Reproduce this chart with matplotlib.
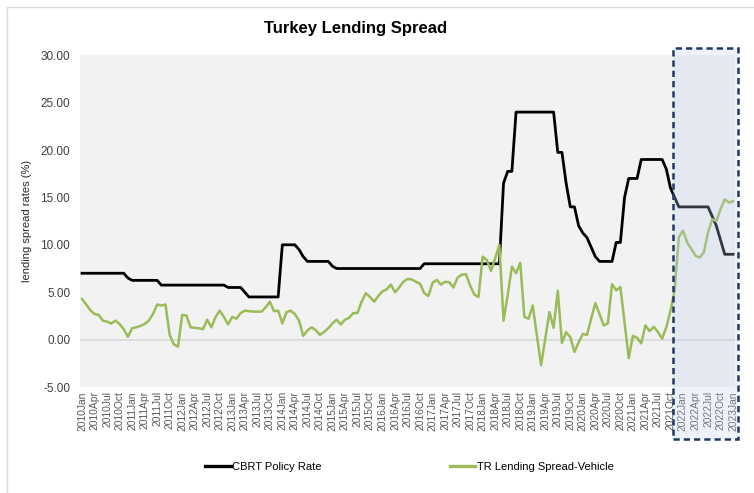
import matplotlib.pyplot as plt
from matplotlib.patches import Rectangle
from matplotlib.lines import Line2D
import matplotlib.transforms as mtransforms

plt.rcParams['font.family'] = ['Liberation Sans', 'DejaVu Sans']

# monthly periods, 2010Jan .. 2023Jan
years = list(range(2010, 2023))
month_names = ["Jan", "Feb", "Mar", "Apr", "May", "Jun",
               "Jul", "Aug", "Sep", "Oct", "Nov", "Dec"]
periods = [f"{y}{m}" for y in years for m in month_names] + ["2023Jan"]

# CBRT policy rate (%), one row per year
policy_rate = [
    7, 7, 7, 7, 7, 7, 7, 7, 7, 7, 7, 6.5,
    6.25, 6.25, 6.25, 6.25, 6.25, 6.25, 6.25, 5.75, 5.75, 5.75, 5.75, 5.75,
    5.75, 5.75, 5.75, 5.75, 5.75, 5.75, 5.75, 5.75, 5.75, 5.75, 5.75, 5.5,
    5.5, 5.5, 5.5, 5.0, 4.5, 4.5, 4.5, 4.5, 4.5, 4.5, 4.5, 4.5,
    10, 10, 10, 10, 9.5, 8.75, 8.25, 8.25, 8.25, 8.25, 8.25, 8.25,
    7.75, 7.5, 7.5, 7.5, 7.5, 7.5, 7.5, 7.5, 7.5, 7.5, 7.5, 7.5,
    7.5, 7.5, 7.5, 7.5, 7.5, 7.5, 7.5, 7.5, 7.5, 7.5, 8, 8,
    8, 8, 8, 8, 8, 8, 8, 8, 8, 8, 8, 8,
    8, 8, 8, 8, 8, 16.5, 17.75, 17.75, 24, 24, 24, 24,
    24, 24, 24, 24, 24, 24, 19.75, 19.75, 16.5, 14, 14, 12,
    11.25, 10.75, 9.75, 8.75, 8.25, 8.25, 8.25, 8.25, 10.25, 10.25, 15, 17,
    17, 17, 19, 19, 19, 19, 19, 19, 18, 16, 15, 14,
    14, 14, 14, 14, 14, 14, 14, 13, 12, 10.5, 9, 9,
    9,
]

# TR lending spread - vehicle loans (%), one row per year
vehicle_spread = [
    4.3, 3.7, 3.1, 2.7, 2.6, 2.0, 1.9, 1.7, 2.0, 1.65, 1.1, 0.3,
    1.2, 1.3, 1.45, 1.65, 2.0, 2.7, 3.7, 3.6, 3.7, 0.5, -0.5, -0.75,
    2.6, 2.55, 1.3, 1.25, 1.2, 1.1, 2.1, 1.3, 2.4, 3.05, 2.4, 1.6,
    2.4, 2.2, 2.8, 3.05, 3.0, 2.95, 2.95, 2.95, 3.4, 4.0, 3.0, 3.05,
    1.7, 2.9, 3.05, 2.7, 2.0, 0.4, 0.95, 1.3, 1.0, 0.5, 0.8, 1.2,
    1.7, 2.1, 1.6, 2.1, 2.3, 2.8, 2.8, 4.0, 4.9, 4.5, 4.0, 4.6,
    5.1, 5.3, 5.8, 5.0, 5.5, 6.1, 6.4, 6.35, 6.1, 5.9, 4.9, 4.6,
    6.0, 6.3, 5.8, 6.1, 6.05, 5.5, 6.55, 6.85, 6.9, 5.7, 4.75, 4.5,
    8.75, 8.4, 7.25, 8.6, 10.0, 2.0, 4.7, 7.7, 7.0, 8.1, 2.4, 2.2,
    3.6, 0.4, -2.7, 0.1, 2.9, 1.25, 5.15, -0.35, 0.8, 0.25, -1.3, -0.3,
    0.6, 0.5, 2.2, 3.85, 2.7, 1.5, 1.7, 5.85, 5.2, 5.55, 1.8, -1.95,
    0.4, 0.2, -0.4, 1.5, 0.9, 1.35, 0.8, 0.1, 1.3, 3.05, 5.15, 10.8,
    11.5, 10.25, 9.55, 8.85, 8.65, 9.2, 11.3, 12.7, 12.5, 13.75, 14.8, 14.45,
    14.6,
]

y_ticks = [-5, 0, 5, 10, 15, 20, 25, 30]
highlight_start = "2021Nov"

color_policy = "black"
color_spread = "#9bbb59"

fig = plt.figure(figsize=(7.54, 4.93), dpi=100)
ax = fig.add_axes([0.106, 0.215, 0.869, 0.673])
ax.set_facecolor("#f2f2f2")

x = list(range(len(periods)))
ax.axhline(0, color="#d9d9d9", lw=1.2, zorder=1)
ax.plot(x, policy_rate, color=color_policy, lw=2.0, zorder=3)
ax.plot(x, vehicle_spread, color=color_spread, lw=1.8, zorder=3)

ax.set_xlim(-0.5, len(periods) - 0.5)
ax.set_ylim(-5, 30)
ax.set_yticks(y_ticks)
ax.set_yticklabels([f"{v:.2f}" for v in y_ticks], fontsize=8.5, color="#404040")
ax.set_xticks(x[::3])
ax.set_xticklabels(periods[::3], rotation=90, fontsize=7.4, color="#595959")
ax.tick_params(length=0)
ax.tick_params(axis="y", pad=7)
ax.tick_params(axis="x", pad=3)
for s in ax.spines.values():
    s.set_visible(False)

ax.set_ylabel("lending spread rates (%)", fontsize=8, color="#262626", labelpad=6)

# highlighted recent period
trans = mtransforms.blended_transform_factory(ax.transData, fig.transFigure)
x0 = periods.index(highlight_start) - 0.4
x1 = len(periods) + 0.2
y0, y1 = 0.110, 0.903
ax.add_patch(Rectangle((x0, y0), x1 - x0, y1 - y0, transform=trans,
                       facecolor=(0.75, 0.81, 0.93), alpha=0.27,
                       edgecolor="none", clip_on=False, zorder=4))
ax.add_patch(Rectangle((x0, y0), x1 - x0, y1 - y0, transform=trans,
                       facecolor="none", edgecolor="#1f3864", lw=1.8,
                       linestyle=(0, (2.5, 1.6)), clip_on=False, zorder=5))

fig.text(0.471, 0.943, "Turkey Lending Spread", ha="center", va="center",
         fontsize=12, fontweight="bold", color="black")

handles = [Line2D([], [], color=color_policy, lw=2.4),
           Line2D([], [], color=color_spread, lw=2.4)]
fig.legend(handles, ["CBRT Policy Rate", "TR Lending Spread-Vehicle"],
           loc="center", bbox_to_anchor=(0.543, 0.053), ncol=2, frameon=False,
           fontsize=8, handlelength=2.3, handletextpad=0.15, columnspacing=11.5)

# chart border
fig.add_artist(Line2D([0.009, 0.009], [0, 0.986], color="#d9d9d9", lw=1,
                      transform=fig.transFigure))
fig.add_artist(Line2D([0.009, 1], [0.986, 0.986], color="#d9d9d9", lw=1,
                      transform=fig.transFigure))

fig.savefig("out.png", dpi=100)
